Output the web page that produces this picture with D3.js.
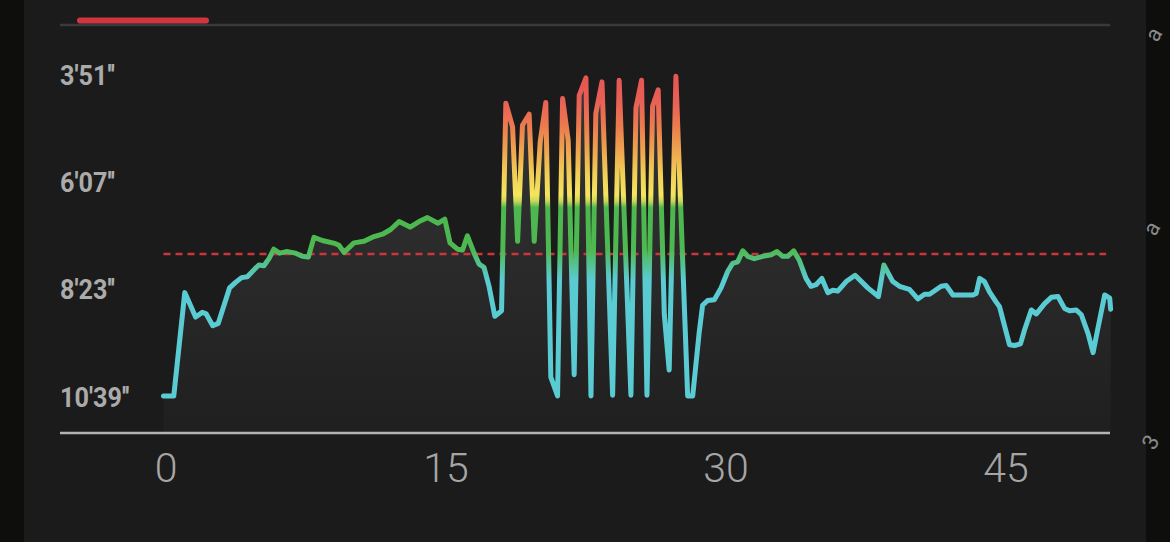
<!DOCTYPE html>
<html><head><meta charset="utf-8">
<script src="https://cdn.jsdelivr.net/npm/d3@7"></script>
<style>html,body{margin:0;padding:0;background:#0e0f0d;overflow:hidden}</style>
</head><body><svg id="c" width="1170" height="542"></svg>
<script>
// ---- data (time in minutes, pace in seconds per km) ----
const minutes = [0.00,0.55,1.14,1.72,2.08,2.29,2.64,2.93,3.54,3.86,4.18,4.49,4.93,5.11,5.38,5.65,5.91,6.22,6.58,7.08,7.44,7.76,8.06,8.51,9.22,9.40,9.67,10.20,10.74,11.28,11.73,12.17,12.62,13.21,13.69,14.14,14.71,15.07,15.35,15.75,16.02,16.28,16.64,16.91,17.17,17.44,17.75,18.11,18.34,18.70,18.97,19.23,19.59,19.86,20.18,20.48,20.75,21.11,21.38,21.68,22.00,22.27,22.63,22.90,23.16,23.49,24.06,24.41,25.04,25.31,25.61,25.90,26.20,26.50,26.83,27.09,27.45,28.08,28.35,28.70,28.88,29.15,29.51,29.87,30.23,30.49,30.76,31.03,31.30,31.65,32.10,32.55,32.87,33.17,33.44,33.76,34.06,34.42,34.69,34.96,35.27,35.59,35.86,36.12,36.57,37.05,37.73,38.30,38.59,39.07,39.43,39.96,40.41,40.77,41.04,41.66,41.93,42.29,43.36,43.54,43.72,43.98,44.25,44.61,44.79,45.32,45.59,45.91,46.13,46.49,46.76,47.20,47.56,47.92,48.27,48.54,48.90,49.17,49.53,49.80,50.06,50.42,50.69,50.74];
const paceSec = [639,639,508,539,533,535,550,547,502,495,489,488,477,473,474,465,453,458,456,458,462,463,438,442,446,448,457,445,443,437,434,428,418,425,418,413,420,415,445,453,454,436,458,472,476,500,538,531,268,298,443,296,282,443,317,267,615,639,262,315,612,258,236,639,281,241,638,239,638,274,239,638,272,251,536,606,234,639,639,558,524,518,517,502,481,471,469,455,462,465,462,460,456,462,462,455,467,490,500,498,490,508,505,506,494,486,502,513,473,494,500,504,516,510,510,500,499,511,511,509,490,494,507,520,526,574,575,573,555,530,535,522,514,513,528,531,530,536,560,584,553,511,515,529];
const yTickValues = [231, 367, 503, 639];
const yTickLabels = ["3'51''", "6'07''", "8'23''", "10'39''"];
const xTickValues = [0, 15, 30, 45];
const targetPace = 459;
const targetEnd = 50.5;

const data = minutes.map((m, i) => ({t: m, p: paceSec[i]}));

const svg = d3.select('#c');
const x = d3.scaleLinear().domain([0, 45]).range([163.5, 1003.5]);
const y = d3.scaleLinear().domain([231, 639]).range([74, 396]);
const axisY = 433;

// backgrounds
svg.append('rect').attr('x',0).attr('y',0).attr('width',1170).attr('height',542).attr('fill','#0e0f0d');
svg.append('rect').attr('x',24).attr('y',0).attr('width',1122).attr('height',542).attr('fill','#1b1b1b');

// faint map glyphs on the right strip
const glyphs = [{t:'a',x:1160,y:38,r:-60},{t:'a',x:1158,y:232,r:-60},{t:'3',x:1157,y:446,r:-60}];
svg.selectAll('text.gl').data(glyphs).join('text').attr('class','gl')
  .attr('transform', d => `translate(${d.x},${d.y}) rotate(${d.r})`)
  .attr('text-anchor','middle').attr('font-family','Roboto, sans-serif').attr('font-size',22)
  .attr('fill','#8a8a8a').text(d => d.t);

const defs = svg.append('defs');
// line colour gradient by pace
const lg = defs.append('linearGradient').attr('id','lineGrad').attr('gradientUnits','userSpaceOnUse')
  .attr('x1',0).attr('x2',0).attr('y1',y(231)).attr('y2',y(639));
const lgStops = [[0,'#e65552'],[0.08,'#e85f56'],[0.16,'#eb7a4e'],[0.24,'#eea64f'],[0.31,'#f1cf56'],[0.375,'#f4e55e'],[0.395,'#c9d757'],[0.415,'#4cb74f'],[0.545,'#4fb951'],[0.64,'#5bcbd3'],[1,'#5bcbd3']];
lg.selectAll('stop').data(lgStops).join('stop').attr('offset',d=>d[0]).attr('stop-color',d=>d[1]);

const ag = defs.append('linearGradient').attr('id','areaGrad').attr('gradientUnits','userSpaceOnUse')
  .attr('x1',0).attr('x2',0).attr('y1',y(231)).attr('y2',axisY);
ag.selectAll('stop').data([[0,'#343434'],[0.45,'#2c2c2c'],[1,'#1f1f1f']]).join('stop')
  .attr('offset',d=>d[0]).attr('stop-color',d=>d[1]);

// top decoration
svg.append('line').attr('x1',60).attr('x2',1110).attr('y1',25).attr('y2',25).attr('stroke','#3a3a3a').attr('stroke-width',2.5);
svg.append('rect').attr('x',77).attr('y',17.5).attr('width',132).attr('height',6).attr('rx',3).attr('fill','#d1353d');

// area
const area = d3.area().x(d => x(d.t)).y0(axisY).y1(d => y(d.p));
svg.append('path').datum(data).attr('d', area).attr('fill','url(#areaGrad)');

// target line
svg.append('line').attr('x1',x(0)).attr('x2',x(targetEnd)).attr('y1',y(targetPace)).attr('y2',y(targetPace))
  .attr('stroke','#cc353b').attr('stroke-width',2.5).attr('stroke-dasharray','7,5');

// pace line
const line = d3.line().x(d => x(d.t)).y(d => y(d.p));
svg.append('path').datum(data).attr('d', line).attr('fill','none')
  .attr('stroke','url(#lineGrad)').attr('stroke-width',5).attr('stroke-linejoin','round').attr('stroke-linecap','round');

// x axis
svg.append('line').attr('x1',60).attr('x2',1110).attr('y1',axisY).attr('y2',axisY).attr('stroke','#b3b3b3').attr('stroke-width',2.5);
const gx = svg.append('g').attr('transform',`translate(0,${axisY})`)
  .call(d3.axisBottom(x).tickValues(xTickValues).tickSize(0).tickFormat(d3.format('d')));
gx.select('.domain').remove();
gx.selectAll('text').attr('y',35).attr('dx',2).attr('dy','0.35em').attr('font-family','Roboto, "Liberation Sans", sans-serif')
  .attr('font-weight',300).attr('font-size',41).attr('fill','#a6a6a6');

// y axis labels (condensed bold look)
const gy = svg.append('g').attr('transform','translate(0,0)')
  .call(d3.axisLeft(y).tickValues(yTickValues).tickSize(0).tickFormat((d,i) => yTickLabels[i]));
gy.select('.domain').remove();
gy.selectAll('text').attr('x',60).attr('text-anchor','start').attr('dy','0.36em')
  .attr('font-family','"Roboto", "DejaVu Sans", sans-serif')
  .attr('font-weight','bold').attr('font-size',28).attr('fill','#ababab')
  .each(function() {
    const w = this.getComputedTextLength();
    d3.select(this).attr('textLength', w * 0.9).attr('lengthAdjust','spacingAndGlyphs');
  });
</script></body></html>
